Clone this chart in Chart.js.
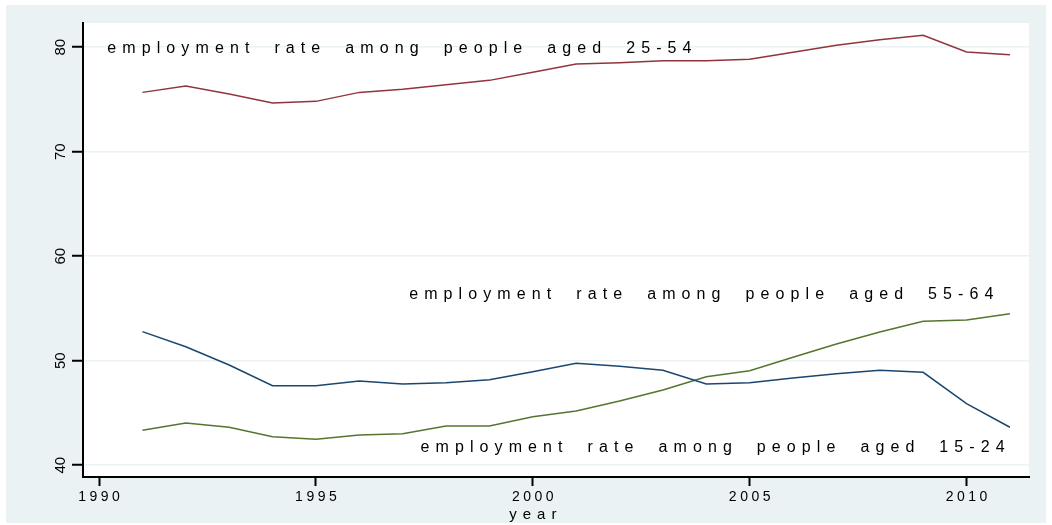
<!DOCTYPE html>
<html>
<head>
<meta charset="utf-8">
<title>Employment rate by age group</title>
<script src="https://cdn.jsdelivr.net/npm/chart.js@4/dist/chart.umd.min.js"></script>
<style>
  html, body { margin: 0; padding: 0; background: #ffffff; }
  canvas { display: block; }
</style>
</head>
<body>
<canvas id="grafico-empleo" width="1052" height="525"></canvas>
<script>
// Years on the x axis
const years = [1991, 1992, 1993, 1994, 1995, 1996, 1997, 1998, 1999, 2000,
               2001, 2002, 2003, 2004, 2005, 2006, 2007, 2008, 2009, 2010, 2011];

// Employment rates (%)
const rate1524 = [52.78, 51.34, 49.59, 47.61, 47.61, 48.06, 47.77, 47.90, 48.18, 48.95,
                  49.75, 49.46, 49.08, 47.77, 47.90, 48.34, 48.76, 49.08, 48.89, 45.89, 43.63];
const rate2554 = [75.68, 76.29, 75.52, 74.66, 74.82, 75.68, 75.97, 76.41, 76.83, 77.60,
                  78.39, 78.52, 78.71, 78.71, 78.84, 79.51, 80.18, 80.72, 81.14, 79.54, 79.28];
const rate5564 = [43.34, 44.04, 43.63, 42.73, 42.48, 42.89, 43.01, 43.75, 43.75, 44.64,
                  45.19, 46.14, 47.20, 48.47, 49.04, 50.33, 51.60, 52.75, 53.77, 53.89, 54.50];

// Tick labels and axis title
const xTicks = [1990, 1995, 2000, 2005, 2010];
const yTicks = [40, 50, 60, 70, 80];
const xTitle = "year";

// Text notes placed in the plot
const noteTexts = [
    "employment rate among people aged 25-54",
    "employment rate among people aged 55-64",
    "employment rate among people aged 15-24"
];
// Where each note sits, in data units (left edge, baseline)
const noteAnchors = [[1990.19, 79.42], [1997.15, 55.88], [1997.41, 41.23]];

// Builds {x, y} points for one series
function puntos(valores) {
    return years.map((yr, i) => ({ x: yr, y: valores[i] }));
}

// Draws text with the wide letter spacing Stata uses
function textoEspaciado(ctx, str, x, y, ls, ws, align) {
    ctx.textAlign = "left";
    if ("letterSpacing" in ctx) { ctx.letterSpacing = "0px"; ctx.wordSpacing = "0px"; }
    const espacios = (str.match(/ /g) || []).length;
    const ancho = ctx.measureText(str).width + ls * (str.length - 1) + ws * espacios;
    let x0 = align === "center" ? x - ancho / 2 : (align === "right" ? x - ancho : x);
    if ("letterSpacing" in ctx) {
        ctx.letterSpacing = ls + "px";
        ctx.wordSpacing = ws + "px";
        ctx.fillText(str, x0, y);
        ctx.letterSpacing = "0px";
        ctx.wordSpacing = "0px";
    } else {
        for (const ch of str) {
            ctx.fillText(ch, x0, y);
            x0 += ctx.measureText(ch).width + ls + (ch === " " ? ws : 0);
        }
    }
}

// Light blue graph region behind a white plot region
const fondoStata = {
    id: "fondoStata",
    beforeDraw(chart) {
        const { ctx, chartArea: a, width, height } = chart;
        ctx.save();
        ctx.fillStyle = "#ffffff";
        ctx.fillRect(0, 0, width, height);
        ctx.fillStyle = "#eaf2f3";
        ctx.fillRect(6, 5, 1040, 518);
        ctx.fillStyle = "#ffffff";
        ctx.fillRect(a.left, a.top, a.right - a.left, a.bottom - a.top);
        ctx.restore();
    }
};

// Tick labels, axis title and notes
const textosStata = {
    id: "textosStata",
    afterDraw(chart) {
        const { ctx } = chart;
        const xs = chart.scales.x;
        const ys = chart.scales.y;
        const fuente = '"Liberation Sans", Arial, sans-serif';
        ctx.save();
        ctx.fillStyle = "#000000";
        ctx.textBaseline = "alphabetic";

        // y labels, turned to read upwards
        ctx.font = "15px " + fuente;
        yTicks.forEach(v => {
            ctx.save();
            ctx.translate(ys.right - 18, ys.getPixelForValue(v));
            ctx.rotate(-Math.PI / 2);
            ctx.textAlign = "center";
            ctx.fillText(String(v), 0, 0);
            ctx.restore();
        });

        // x labels
        ctx.font = "14px " + fuente;
        xTicks.forEach(v => {
            textoEspaciado(ctx, String(v), xs.getPixelForValue(v), xs.top + 23.5, 3.5, 0, "center");
        });

        // x title, centred on the tick range
        ctx.font = "15px " + fuente;
        const medio = (xTicks[0] + xTicks[xTicks.length - 1]) / 2;
        textoEspaciado(ctx, xTitle, xs.getPixelForValue(medio), xs.top + 41.5, 6, 0, "center");

        // notes
        ctx.font = "16px " + fuente;
        noteTexts.forEach((t, i) => {
            const px = xs.getPixelForValue(noteAnchors[i][0]);
            const py = ys.getPixelForValue(noteAnchors[i][1]);
            textoEspaciado(ctx, t, px, py, 6.1, 8.4, "left");
        });
        ctx.restore();
    }
};

const ctx = document.getElementById("grafico-empleo").getContext("2d");
const grafico = new Chart(ctx, {
    type: "line",
    data: {
        datasets: [
            {
                label: "15-24",
                data: puntos(rate1524),
                borderColor: "#1a476f",
                borderWidth: 1.5,
                pointRadius: 0,
                fill: false
            },
            {
                label: "25-54",
                data: puntos(rate2554),
                borderColor: "#90353b",
                borderWidth: 1.5,
                pointRadius: 0,
                fill: false
            },
            {
                label: "55-64",
                data: puntos(rate5564),
                borderColor: "#55752f",
                borderWidth: 1.5,
                pointRadius: 0,
                fill: false
            }
        ]
    },
    options: {
        responsive: false,
        devicePixelRatio: 1,
        animation: false,
        layout: { padding: { top: 23, right: 23, left: 0, bottom: 0 } },
        plugins: {
            legend: { display: false },
            tooltip: { enabled: false }
        },
        scales: {
            x: {
                type: "linear",
                min: 1989.63,
                max: 2011.44,
                afterBuildTicks: s => { s.ticks = xTicks.map(v => ({ value: v })); },
                afterFit: s => { s.height = 48; },
                ticks: { display: false },
                grid: {
                    drawOnChartArea: false,
                    drawTicks: true,
                    tickLength: 9,
                    tickColor: "#000000",
                    tickWidth: 2
                },
                border: { color: "#000000", width: 2 }
            },
            y: {
                type: "linear",
                min: 38.87,
                max: 82.32,
                afterBuildTicks: s => { s.ticks = yTicks.map(v => ({ value: v })); },
                afterFit: s => { s.width = 83; },
                ticks: { display: false },
                grid: {
                    color: "#eaf2f3",
                    lineWidth: 1.5,
                    drawTicks: true,
                    tickLength: 11,
                    tickColor: "#000000",
                    tickWidth: 2
                },
                border: { color: "#000000", width: 2 }
            }
        }
    },
    plugins: [fondoStata, textosStata]
});
</script>
</body>
</html>
